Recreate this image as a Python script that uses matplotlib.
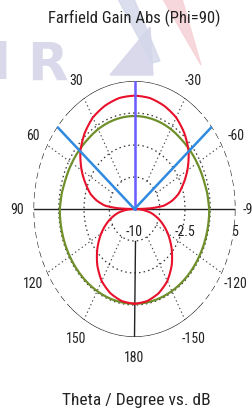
import numpy as np
import matplotlib
matplotlib.use('Agg')
import matplotlib.pyplot as plt
from matplotlib import font_manager
from matplotlib.patches import Polygon

# pick the narrowest font that is installed
names = set(f.name for f in font_manager.fontManager.ttflist)
narrow = 'DejaVu Sans'
for n in ['Liberation Sans Narrow', 'DejaVu Sans Condensed', 'Roboto Condensed', 'Liberation Sans', 'Roboto']:
    if n in names:
        narrow = n
        break
plt.rcParams['font.family'] = [narrow, 'DejaVu Sans']

# theta in degrees (0..180), pattern is symmetric in phi=90 cut
theta_deg = [0, 10, 20, 30, 40, 50, 60, 70, 75, 80, 85, 88, 90,
             93, 100, 110, 120, 130, 140, 150, 160, 170, 180]
gain_red = [3.28, 3.2, 2.87, 2.38, 1.55, 0.5, -0.93, -2.5, -3.25, -4.3, -5.65, -7.6, -30,
            -9.25, -7.6, -5.9, -4.3, -2.8, -1.4, -0.25, 0.5, 0.95, 1.1]
gain_green = [0.9, 0.88, 0.85, 0.8, 0.72, 0.72, 0.75, 0.8, 0.85, 0.95, 1.0, 1.05, 1.1,
              1.1, 1.1, 1.1, 1.1, 1.1, 1.1, 1.1, 1.1, 1.1, 1.1]
beam_angles = [50, -50]          # blue marker lines
main_lobe = 0                    # main lobe direction
r_min, r_max = -10, 5
r_grid = [-6.25, -2.5, 1.25]
r_ticklabels = ['-10', '-2.5', '5']
r_tickvals = [-10, -2.5, 5]
angle_labels = [0, 30, 60, 90, 120, 150, 180, -150, -120, -90, -60, -30]

fig = plt.figure(figsize=(2.52, 4.14), dpi=100)

# faint watermark behind everything
wm = '#d9d9eb'
fig.text(10/252, 1-40/414, 'I', fontsize=37, fontweight='bold', color=wm,
         family='DejaVu Sans', va='top', ha='right', zorder=0)
fig.text(27/252, 1-40/414, 'R', fontsize=38, fontweight='bold', color=wm,
         family='DejaVu Sans', va='top', ha='left', zorder=0)
fig.patches.append(Polygon([(110/252, 1-76/414), (150/252, 1-28/414), (153/252, 1-76/414)],
                           closed=True, transform=fig.transFigure, color=wm, zorder=0))
fig.patches.append(Polygon([(118/252, 1.0), (134/252, 1.0), (160/252, 1-62/414), (152/252, 1-64/414)],
                           closed=True, transform=fig.transFigure, color='#d3d7e9', alpha=0.8, zorder=0))
fig.patches.append(Polygon([(163/252, 1.0), (182/252, 1.0), (201/252, 1-66/414)],
                           closed=True, transform=fig.transFigure, color='#f6d3d7', alpha=0.9, zorder=0))

ax = fig.add_axes([33.5/252, 76/414, 202/252, 256/414], projection='polar')
ax.set_aspect('auto')
ax.patch.set_alpha(0)
ax.set_theta_zero_location('N')
ax.set_theta_direction(1)
ax.set_ylim(r_min, r_max)
ax.grid(False)
ax.set_xticklabels([])
ax.set_yticklabels([])
ax.spines['polar'].set_visible(False)

def smooth(lines, steps=30):
    for ln in lines:
        ln.get_path()._interpolation_steps = steps

full = np.linspace(0, 2*np.pi, 361)
for rg in r_grid:
    ax.plot(full, np.full_like(full, rg), color='#333333', lw=0.9, ls=(0, (1.2, 2.5)), zorder=2)

# outer ring: solid at top/bottom, dashed at the sides
t_top = np.radians(np.linspace(-40, 40, 100))
t_bot = np.radians(np.linspace(140, 220, 100))
t_side1 = np.radians(np.linspace(40, 140, 100))
t_side2 = np.radians(np.linspace(220, 320, 100))
for t in (t_top, t_bot):
    ax.plot(t, np.full_like(t, r_max), color='#222222', lw=0.9, zorder=3)
for t in (t_side1, t_side2):
    ax.plot(t, np.full_like(t, r_max), color='#222222', lw=0.9, ls=(0, (5, 3)), zorder=3)

# radial dotted spokes
for a in [30, 60, 120, 150, 210, 240, 300, 330]:
    ax.plot([np.radians(a)]*2, [r_grid[0], r_max], color='#444444', lw=0.8,
            ls=(0, (1.2, 2.5)), zorder=2)

# axis lines
ax.plot([np.radians(90)]*2, [r_min, r_max], color='#222222', lw=1.0, zorder=3)
ax.plot([np.radians(-90)]*2, [r_min, r_max + 0.3], color='#222222', lw=1.0, zorder=3)
ax.plot([np.radians(180)]*2, [r_grid[0], r_max], color='#222222', lw=1.0, zorder=3)

# curves (mirror to negative theta)
th = np.array(theta_deg, dtype=float)
th_full = np.radians(np.concatenate([-th[::-1], th[1:]]))
red = np.clip(np.array(gain_red), r_min, None)
green = np.clip(np.array(gain_green), r_min, None)
red_full = np.concatenate([red[::-1], red[1:]])
green_full = np.concatenate([green[::-1], green[1:]])
smooth(ax.plot(th_full, green_full, color='#6f8f2a', lw=1.6, zorder=4))
smooth(ax.plot(th_full, red_full, color='#e8102a', lw=1.5, zorder=5))

# marker lines
ax.plot([np.radians(main_lobe)]*2, [r_min, r_max], color='#6a5cff', lw=1.8, zorder=6)
for b in beam_angles:
    ax.plot([np.radians(b)]*2, [r_min, r_max], color='#2f8ae0', lw=1.8, zorder=6)

# angle labels
for a in angle_labels:
    rl = r_max + 15*0.16
    ax.text(np.radians(a), rl, str(a), ha='center', va='center', fontsize=10,
            color='#222222', clip_on=False)

# radial tick labels
for v, s in zip(r_tickvals, r_ticklabels):
    ax.annotate(s, xy=(np.radians(-90), v), xytext=(0, -15.5), textcoords='offset points',
                ha='center', va='center', fontsize=10, color='#222222')

fig.text(134/252, 1-18.5/414, 'Farfield Gain Abs (Phi=90)', ha='center', va='center',
         fontsize=12, color='#222222')
fig.text(136/252, 1-401/414, 'Theta / Degree vs. dB', ha='center', va='center',
         fontsize=12.5, color='#222222')

fig.savefig('out.png', dpi=100)
